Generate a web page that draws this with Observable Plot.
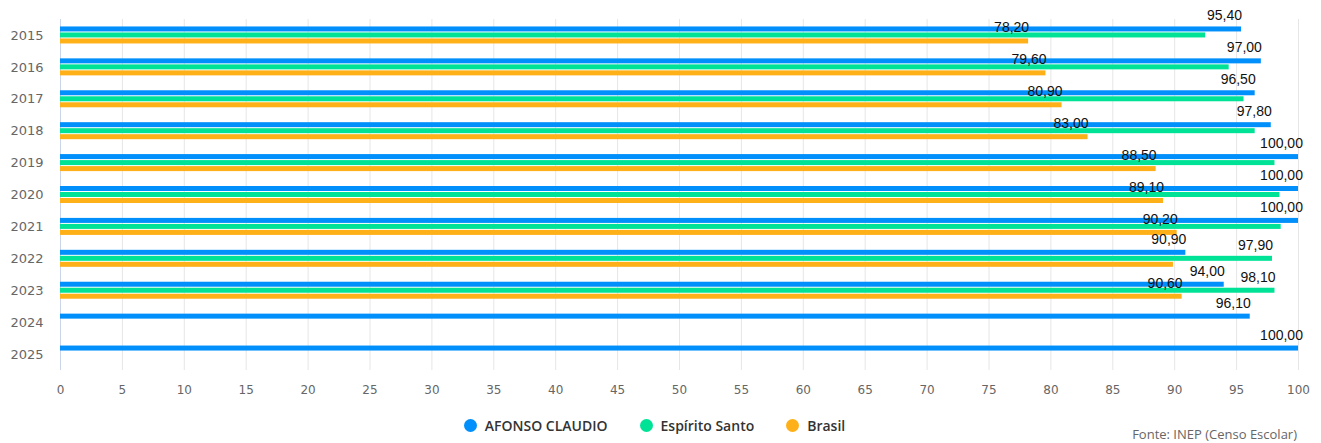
<!DOCTYPE html>
<html>
<head>
<meta charset="utf-8">
<script src="https://cdn.jsdelivr.net/npm/d3@7"></script>
<script src="https://cdn.jsdelivr.net/npm/@observablehq/plot@0.6"></script>
<style>
  html, body { margin: 0; padding: 0; background: #fff; }
  #wrap { position: relative; width: 1321px; height: 443px; overflow: hidden; }
  #legend { position: absolute; left: -6px; top: 414px; width: 1321px; height: 22px;
    display: flex; justify-content: center; align-items: center;
    font-family: "Open Sans", sans-serif; font-weight: 600; font-size: 14px; color: #333; }
  .item { display: flex; align-items: center; margin: 0 16px; }
  .dot { width: 13px; height: 13px; border-radius: 50%; margin-right: 8px; }
  #caption { position: absolute; right: 24px; top: 425px; font-family: "Open Sans", sans-serif;
    font-size: 13px; color: #666; line-height: 18px; }
</style>
</head>
<body>
<div id="wrap">
  <div id="chart"></div>
  <div id="legend"></div>
  <div id="caption">Fonte: INEP (Censo Escolar)</div>
</div>
<script>
const years = ["2015","2016","2017","2018","2019","2020","2021","2022","2023","2024","2025"];
const seriesNames = ["AFONSO CLAUDIO", "Espírito Santo", "Brasil"];
const afonsoClaudio = [95.4, 97.0, 96.5, 97.8, 100.0, 100.0, 100.0, 90.9, 94.0, 96.1, 100.0];
const espiritoSanto = [92.5, 94.4, 95.6, 96.5, 98.1, 98.5, 98.6, 97.9, 98.1, null, null];
const brasil = [78.2, 79.6, 80.9, 83.0, 88.5, 89.1, 90.2, 89.9, 90.6, null, null];
const xTicks = [0,5,10,15,20,25,30,35,40,45,50,55,60,65,70,75,80,85,90,95,100];
const colors = ["#008FFB", "#00E396", "#FEB019"];

const seriesValues = [afonsoClaudio, espiritoSanto, brasil];
const rows = [];
years.forEach((yr, i) => {
  seriesNames.forEach((s, j) => {
    const v = seriesValues[j][i];
    if (v != null) rows.push({year: yr, series: s, value: v, si: j});
  });
});
const fmt = v => v.toFixed(2).replace(".", ",");
const STEP = 6;       // vertical spacing between the grouped bars
const THICK = 5;      // bar thickness
const LABEL_DY = -13.5;
const LABEL_DX = -17;

function build(labels, inset) {
  const marks = [
    Plot.gridX(xTicks, {stroke: "#e6e6e6", strokeOpacity: 1}),
    Plot.ruleX([0], {stroke: "#ccd6eb"})
  ];
  seriesNames.forEach((s, j) => {
    marks.push(Plot.barX(rows.filter(r => r.si === j), {
      x: "value", y: "year", fill: "series", dy: (j - 1) * STEP,
      insetTop: inset, insetBottom: inset
    }));
  });
  seriesNames.forEach((s, j) => {
    marks.push(Plot.text(labels.filter(r => r.si === j), {
      x: "value", y: "year", text: d => fmt(d.value),
      dx: LABEL_DX, dy: (j - 1) * STEP + LABEL_DY, textAnchor: "middle", fontSize: 14, fill: "#111",
      fontFamily: "'Liberation Sans', Arial, sans-serif"
    }));
  });
  marks.push(
    Plot.axisX({ticks: xTicks, tickSize: 0, tickPadding: 15, fontSize: 12, color: "#666",
      label: null, fontFamily: "'DejaVu Sans', sans-serif"}),
    Plot.axisY({anchor: "left", tickSize: 0, tickPadding: 17, fontSize: 13, color: "#666", label: null,
      fontFamily: "'DejaVu Sans', sans-serif"})
  );
  return Plot.plot({
    width: 1321, height: 403,
    marginLeft: 60, marginRight: 23, marginTop: 19, marginBottom: 33,
    style: {background: "#fff"},
    x: {domain: [0, 100], label: null},
    y: {domain: years, padding: 0, round: false, label: null},
    color: {domain: seriesNames, range: colors},
    marks
  });
}

// First pass to obtain the plot's scales, then hide overlapping data labels
const p0 = build([], 0);
const xs = p0.scale("x");
const bw = p0.scale("y").bandwidth;
const ctx = document.createElement("canvas").getContext("2d");
ctx.font = "14px 'Liberation Sans'";
const shown = [];
years.forEach(yr => {
  const boxes = [];
  rows.filter(r => r.year === yr).forEach(r => {
    const w = ctx.measureText(fmt(r.value)).width;
    const cx = xs.apply(r.value) + LABEL_DX;
    const cy = (r.si - 1) * STEP + LABEL_DY;
    const b = {x0: cx - w/2 - 2, x1: cx + w/2 + 2, y0: cy - 7, y1: cy + 7};
    const hit = boxes.some(o => b.x0 < o.x1 && b.x1 > o.x0 && b.y0 < o.y1 && b.y1 > o.y0);
    if (!hit) { boxes.push(b); shown.push(r); }
  });
});
document.getElementById("chart").appendChild(build(shown, (bw - THICK) / 2));

const legend = document.getElementById("legend");
seriesNames.forEach((s, i) => {
  const it = document.createElement("div");
  it.className = "item";
  const dot = document.createElement("span");
  dot.className = "dot";
  dot.style.background = colors[i];
  const t = document.createElement("span");
  t.textContent = s;
  it.appendChild(dot); it.appendChild(t);
  legend.appendChild(it);
});
</script>
</body>
</html>
